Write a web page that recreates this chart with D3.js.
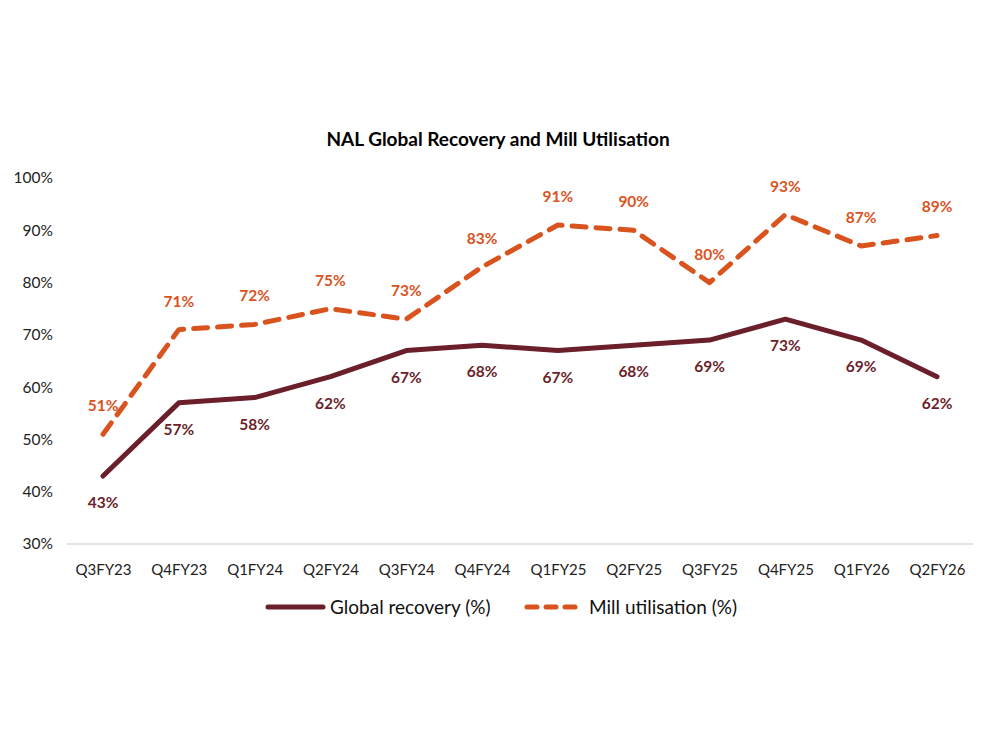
<!DOCTYPE html>
<html>
<head>
<meta charset="utf-8">
<script src="https://cdn.jsdelivr.net/npm/d3@7"></script>
<style>
  body { margin: 0; background: #fff; }
  text { font-family: Lato, "Open Sans", sans-serif; }
</style>
</head>
<body>
<svg width="1000" height="750"></svg>
<script>
// chart data
var quarters = ["Q3FY23", "Q4FY23", "Q1FY24", "Q2FY24", "Q3FY24", "Q4FY24", "Q1FY25", "Q2FY25", "Q3FY25", "Q4FY25", "Q1FY26", "Q2FY26"];
var recovery = [43, 57, 58, 62, 67, 68, 67, 68, 69, 73, 69, 62];
var utilisation = [51, 71, 72, 75, 73, 83, 91, 90, 80, 93, 87, 89];
var yTicks = [30, 40, 50, 60, 70, 80, 90, 100];

var maroon = "#6b1f2b";
var orange = "#d9531e";

let svg = d3.select("svg");

var x = d3.scalePoint()
    .domain(quarters)
    .range([103, 937]);

var y = d3.scaleLinear()
    .domain([30, 100])
    .range([544, 178]);

// title
svg.append("text")
    .attr("x", 498)
    .attr("y", 146)
    .attr("text-anchor", "middle")
    .style("font-size", "19px")
    .style("font-weight", "bold")
    .style("fill", "#000")
    .text("NAL Global Recovery and Mill Utilisation");

// y axis labels (no line)
let yAxis = svg.append("g")
    .attr("transform", "translate(53,0)")
    .call(d3.axisLeft(y).tickValues(yTicks).tickFormat(function(d) { return d + "%"; }).tickSize(0).tickPadding(0));
yAxis.select(".domain").remove();
yAxis.selectAll("text")
    .style("font-size", "15.5px")
    .style("fill", "#222")
    .style("font-family", "Lato, 'Open Sans', sans-serif");

// x axis
let xAxis = svg.append("g")
    .attr("transform", "translate(0," + y(30) + ")")
    .call(d3.axisBottom(x).tickSize(0).tickPadding(20));
xAxis.select(".domain").remove();
xAxis.append("line")
    .attr("x1", 67).attr("x2", 973)
    .attr("stroke", "#d9d9d9")
    .attr("stroke-width", 1.5);
xAxis.selectAll("text")
    .style("font-size", "15px")
    .style("fill", "#222")
    .style("font-family", "Lato, 'Open Sans', sans-serif");

var line = function(vals) {
    return d3.line()
        .x(function(d, i) { return x(quarters[i]); })
        .y(function(d) { return y(d); })(vals);
};

svg.append("path")
    .attr("d", line(recovery))
    .attr("fill", "none")
    .attr("stroke", maroon)
    .attr("stroke-width", 5)
    .attr("stroke-linecap", "round")
    .attr("stroke-linejoin", "round");

svg.append("path")
    .attr("d", line(utilisation))
    .attr("fill", "none")
    .attr("stroke", orange)
    .attr("stroke-width", 5)
    .attr("stroke-dasharray", "14,10")
    .attr("stroke-linecap", "round")
    .attr("stroke-linejoin", "round");

// data labels
svg.selectAll("text.rec")
    .data(recovery)
    .enter()
    .append("text")
    .attr("class", "rec")
    .attr("x", function(d, i) { return x(quarters[i]); })
    .attr("y", function(d) { return y(d) + 28; })
    .attr("text-anchor", "middle")
    .attr("dominant-baseline", "middle")
    .style("font-size", "15.5px")
    .style("font-weight", "bold")
    .style("fill", maroon)
    .text(function(d) { return d + "%"; });

svg.selectAll("text.util")
    .data(utilisation)
    .enter()
    .append("text")
    .attr("class", "util")
    .attr("x", function(d, i) { return x(quarters[i]); })
    .attr("y", function(d) { return y(d) - 27; })
    .attr("text-anchor", "middle")
    .attr("dominant-baseline", "middle")
    .style("font-size", "15.5px")
    .style("font-weight", "bold")
    .style("fill", orange)
    .text(function(d) { return d + "%"; });

// legend
svg.append("line")
    .attr("x1", 268).attr("x2", 323)
    .attr("y1", 607).attr("y2", 607)
    .attr("stroke", maroon)
    .attr("stroke-width", 5)
    .attr("stroke-linecap", "round");
svg.append("text")
    .attr("x", 330)
    .attr("y", 609)
    .attr("dominant-baseline", "middle")
    .style("font-size", "19px")
    .style("fill", "#111")
    .text("Global recovery (%)");

svg.append("line")
    .attr("x1", 527).attr("x2", 580)
    .attr("y1", 607).attr("y2", 607)
    .attr("stroke", orange)
    .attr("stroke-width", 5)
    .attr("stroke-dasharray", "10,9")
    .attr("stroke-linecap", "round");
svg.append("text")
    .attr("x", 589)
    .attr("y", 609)
    .attr("dominant-baseline", "middle")
    .style("font-size", "19px")
    .style("fill", "#111")
    .text("Mill utilisation (%)");
</script>
</body>
</html>
